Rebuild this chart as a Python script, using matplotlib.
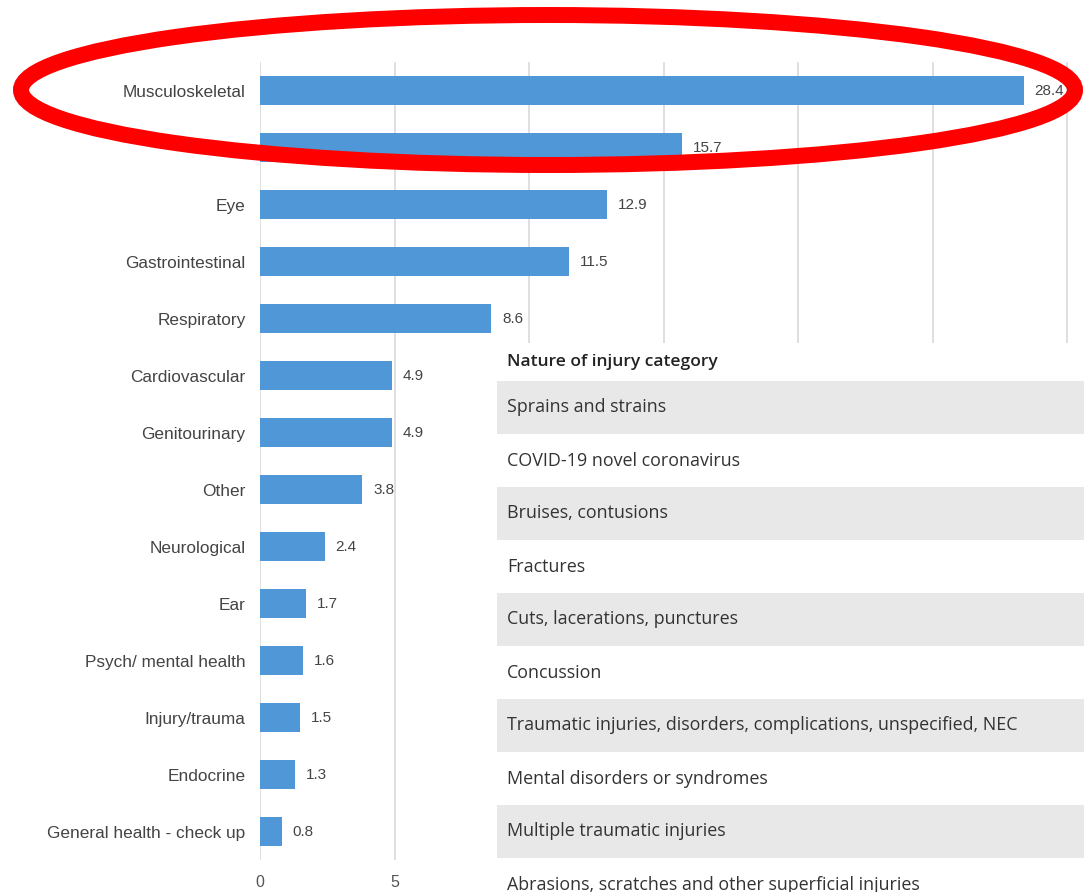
import matplotlib.pyplot as plt
from matplotlib.patches import Ellipse, Rectangle

# data
categories = ["Musculoskeletal", "", "Eye", "Gastrointestinal", "Respiratory",
              "Cardiovascular", "Genitourinary", "Other", "Neurological", "Ear",
              "Psych/ mental health", "Injury/trauma", "Endocrine",
              "General health - check up"]
values = [28.4, 15.7, 12.9, 11.5, 8.6, 4.9, 4.9, 3.8, 2.4, 1.7, 1.6, 1.5, 1.3, 0.8]
x_ticks = [0, 5, 10, 15, 20, 25, 30]
# only the first two tick labels show, the rest sit under the table
x_tick_labels = ["0", "5", "", "", "", "", ""]

table_header = "Nature of injury category"
table_rows = ["Sprains and strains", "COVID-19 novel coronavirus",
              "Bruises, contusions", "Fractures", "Cuts, lacerations, punctures",
              "Concussion",
              "Traumatic injuries, disorders, complications, unspecified, NEC",
              "Mental disorders or syndromes", "Multiple traumatic injuries",
              "Abrasions, scratches and other superficial injuries"]

W, H = 1084, 892
fig = plt.figure(figsize=(W / 100, H / 100), dpi=100)

# bar chart
ax = fig.add_axes([260 / W, 1 - 860 / H, 1 - 260 / W, (860 - 62) / H])
ypos = list(range(len(categories)))
ax.barh(ypos, values, height=0.5, color="#4f97d7", zorder=2)
ax.set_ylim(len(categories) - 0.5, -0.5)
ax.set_xlim(0, 30 * (W - 260) / (1067 - 260))
ax.set_yticks(ypos)
ax.set_yticklabels(categories, family="Liberation Sans", fontsize=12.4, color="#444444")
ax.set_xticks(x_ticks)
ax.set_xticklabels(x_tick_labels, family="Liberation Sans",
                   fontsize=11.5, color="#555555")
ax.tick_params(length=0, axis="y", pad=10.5)
ax.tick_params(length=0, axis="x", pad=11)
ax.grid(axis="x", color="#d9d9d9", linewidth=1.2, zorder=0)
for s in ax.spines.values():
    s.set_visible(False)
for y, v in zip(ypos, values):
    ax.text(v + 0.4, y, f"{v}", va="center", ha="left", family="Liberation Sans",
            fontsize=11, color="#444444")

# overlaid table
tx0, ty0 = 497, 343
tab = fig.add_axes([tx0 / W, 0, (W - tx0) / W, (H - ty0) / H])
tab.set_xlim(0, W - tx0)
tab.set_ylim(H - ty0, 0)
tab.axis("off")
tab.add_patch(Rectangle((0, 0), W - tx0, 38, facecolor="white", edgecolor="none"))
tab.text(10, 19, table_header, va="center", ha="left", family="Open Sans",
         fontsize=12.5, fontweight="semibold", color="#222222")
row_h = 53
for i, name in enumerate(table_rows):
    top = 38 + i * row_h
    fc = "#e8e8e8" if i % 2 == 0 else "white"
    tab.add_patch(Rectangle((0, top), W - tx0, row_h, facecolor=fc, edgecolor="none"))
    tab.text(10, top + row_h / 2, name, va="center", ha="left", family="Open Sans",
             fontsize=12.9, color="#333333")

# red highlight ellipse
over = fig.add_axes([0, 0, 1, 1])
over.set_xlim(0, W)
over.set_ylim(H, 0)
over.axis("off")
over.add_patch(Ellipse((548, 90), 1054, 150, fill=False, edgecolor="#ff0000",
                       linewidth=11.5))

fig.savefig("out.png", dpi=100)
